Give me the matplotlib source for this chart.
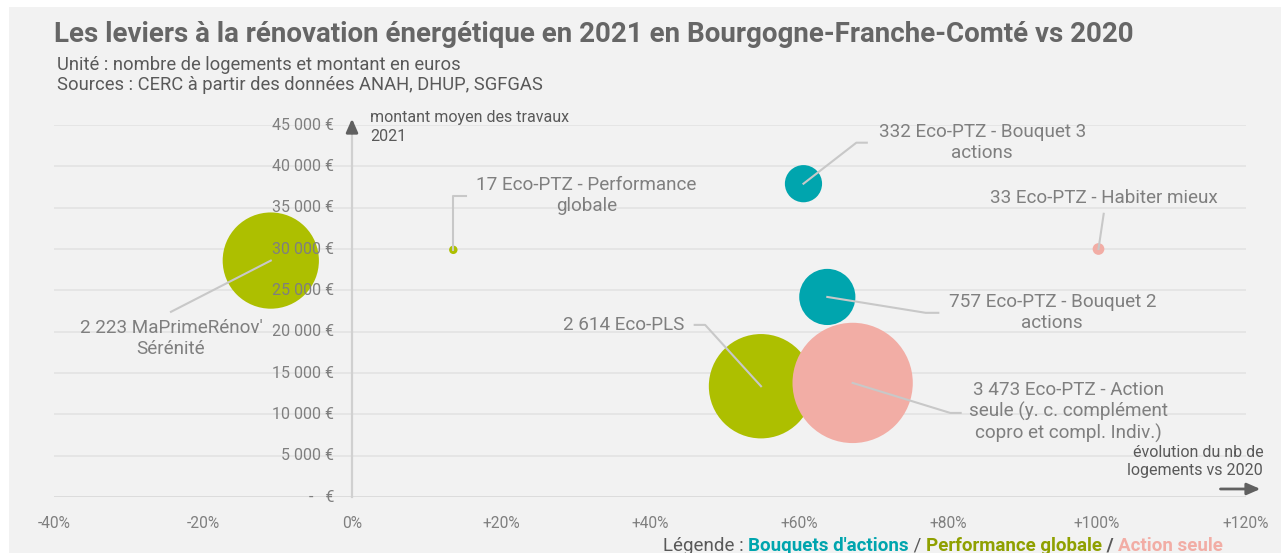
import numpy as np
import matplotlib
matplotlib.use("Agg")
import matplotlib.pyplot as plt
from matplotlib.patches import Rectangle

plt.rcParams["font.family"] = ["Roboto", "DejaVu Sans"]

################################################################################
# Data
################################################################################

labels = ["2 223 MaPrimeRénov'\nSérénité",
          "17 Eco-PTZ - Performance\nglobale",
          "332 Eco-PTZ - Bouquet 3\nactions",
          "33 Eco-PTZ - Habiter mieux",
          "757 Eco-PTZ - Bouquet 2\nactions",
          "2 614 Eco-PLS",
          "3 473 Eco-PTZ - Action\nseule (y. c. complément\ncopro et compl. Indiv.)"]
nb_logements = [2223, 17, 332, 33, 757, 2614, 3473]
evolution = [-10.9, 13.6, 60.6, 100.2, 63.8, 54.9, 67.2]          # % vs 2020
montant = [28600, 29900, 37900, 30000, 24200, 13400, 13800]        # euros
categorie = ["perf", "perf", "bouquet", "seule", "bouquet", "perf", "seule"]

# label placement (data coords) and leader elbows
lab_x = [-24.3, 31.5, 84.6, 100.9, 94.0, 44.6, 96.2]
lab_y = [19130, 36440, 42860, 36200, 22280, 20820, 10290]
lab_ha = ["center", "center", "center", "center", "center", "right", "center"]
elbows = [[(-24.3, 22400)],
          [(13.6, 36440), (15.3, 36440)],
          [(67.7, 42860), (69.1, 42860)],
          [(100.9, 34260)],
          [(77.0, 22280), (78.7, 22280)],
          [(47.4, 20820), (46.0, 20820)],
          [(80.3, 10170), (81.7, 10170)]]

x_ticks = [-40, -20, 0, 20, 40, 60, 80, 100, 120]
y_ticks = np.arange(0, 45001, 5000)

colors = {"bouquet": "#00a5ae", "perf": "#adbf00", "seule": "#f2ada5"}
txt_gray = "#7f7f7f"

################################################################################
# Figure
################################################################################

fig = plt.figure(figsize=(12.81, 5.53), dpi=100)
fig.patch.set_facecolor("white")
fig.patches.append(Rectangle((9 / 1281, 0), 1, 1 - 7 / 553, transform=fig.transFigure,
                             facecolor="#f2f2f2", edgecolor="none", zorder=-10))

ax = fig.add_axes([54 / 1281, 1 - 497 / 553, (1246 - 54) / 1281, (497 - 125) / 553])
ax.set_facecolor("none")
ax.set_xlim(-40, 120)
ax.set_ylim(0, 45000)

for s in ["top", "right", "left", "bottom"]:
    ax.spines[s].set_visible(False)

# grid
for v in y_ticks[1:]:
    ax.axhline(v, color="#e4e4e4", lw=1.3, zorder=0)
ax.axhline(0, color="#d6d6d6", lw=1.8, zorder=0)
ax.plot([0, 0], [0, 44000], color="#d0d0d0", lw=1.6, zorder=0, clip_on=False)

# axis arrows
ax.annotate("", xy=(0, 46100), xytext=(0, 43700),
            arrowprops=dict(arrowstyle="-|>,head_width=0.35,head_length=0.8",
                            color="#606060", lw=2), annotation_clip=False)
ax.annotate("", xy=(122.3, 970), xytext=(116.2, 970),
            arrowprops=dict(arrowstyle="-|>,head_width=0.35,head_length=0.8",
                            color="#606060", lw=2), annotation_clip=False)

# ticks
ax.set_xticks(x_ticks)
ax.set_xticklabels(["{:+d}%".format(v) if v != 0 else "0%" for v in x_ticks],
                   color=txt_gray, fontsize=11.2)
ax.set_yticks([])
for v in y_ticks:
    lab = "{:,} €".format(v).replace(",", " ") if v > 0 else "-   €"
    ax.text(-2.4, v, lab, ha="right", va="center", color=txt_gray, fontsize=11.5, zorder=6)
ax.tick_params(axis="x", length=0, pad=14)

# bubbles
sizes = [2.16 * n for n in nb_logements]
ax.scatter(evolution, montant, s=sizes, c=[colors[c] for c in categorie],
           edgecolors="none", zorder=3, clip_on=False)

# leader lines + labels
for i in range(len(labels)):
    pts = [(evolution[i], montant[i])] + elbows[i]
    ax.plot([p[0] for p in pts], [p[1] for p in pts], color="#c8c8c8", lw=1.5, zorder=4)
    ax.text(lab_x[i], lab_y[i], labels[i], ha=lab_ha[i], va="center", color=txt_gray,
            fontsize=13.6, linespacing=1.2, multialignment="center", zorder=5)

# axis titles
ax.text(2.4, 46800, "montant moyen des travaux\n2021", ha="left", va="top",
        color="#595959", fontsize=11.5, linespacing=1.3)
ax.text(122.3, 4300, "évolution du nb de\nlogements vs 2020", ha="right", va="center",
        color="#595959", fontsize=11.5, linespacing=1.25, multialignment="right")

# titles
fig.text(54 / 1281, 1 - 34 / 553, "Les leviers à la rénovation énergétique en 2021 en Bourgogne-Franche-Comté vs 2020",
         ha="left", va="center", fontsize=20, fontweight="bold", color="#666666")
fig.text(57 / 1281, 1 - 75 / 553, "Unité : nombre de logements et montant en euros\nSources : CERC à partir des données ANAH, DHUP, SGFGAS",
         ha="left", va="center", fontsize=13.2, color="#595959", linespacing=1.15)

# legend line
parts = [("Légende : ", "#595959", "normal"),
         ("Bouquets d'actions", colors["bouquet"], "bold"),
         (" / ", "#595959", "normal"),
         ("Performance globale", "#8fa000", "bold"),
         (" / ", "#595959", "bold"),
         ("Action seule", colors["seule"], "bold")]
fig.canvas.draw()
renderer = fig.canvas.get_renderer()
x0 = 663
for txt, col, w in parts:
    t = fig.text(x0 / 1281, 1 - 546 / 553, txt, ha="left", va="center", fontsize=13.5,
                 color=col, fontweight=w)
    bb = t.get_window_extent(renderer)
    x0 += bb.width

fig.savefig("out.png", dpi=100)
